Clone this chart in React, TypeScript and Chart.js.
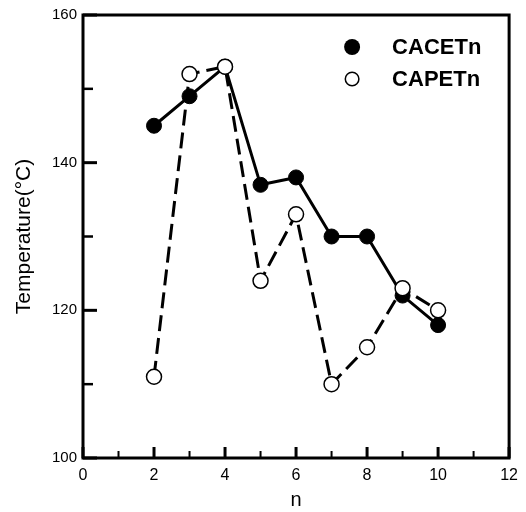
import React, { useEffect, useRef } from "react";
import { Chart, registerables } from "chart.js";

Chart.register(...registerables);

const nValues = [2, 3, 4, 5, 6, 7, 8, 9, 10];
const cacetValues = [145, 149, 153, 137, 138, 130, 130, 122, 118];
const capetValues = [111, 152, 153, 124, 133, 110, 115, 123, 120];
const seriesNames = ["CACETn", "CAPETn"];
const xMajorTicks = [0, 2, 4, 6, 8, 10, 12];
const xMinorTicks = [1, 3, 5, 7, 9, 11];
const yMajorTicks = [100, 120, 140, 160];
const yMinorTicks = [110, 130, 150];
const xTitle = "n";
const yTitle = "Temperature(°C)";

const FONT = "'Liberation Sans', Arial, Helvetica, sans-serif";

const framePlugin = {
  id: "framePlugin",
  afterDatasetsDraw(chart: any) {
    const { ctx, chartArea } = chart;
    const xs = chart.scales.x;
    const ys = chart.scales.y;
    ctx.save();
    ctx.strokeStyle = "#000";
    ctx.lineCap = "butt";
    ctx.lineWidth = 3;
    xMajorTicks.forEach((v) => {
      const px = xs.getPixelForValue(v);
      ctx.beginPath();
      ctx.moveTo(px, chartArea.bottom);
      ctx.lineTo(px, chartArea.bottom - 11);
      ctx.stroke();
    });
    ctx.lineWidth = 2;
    xMinorTicks.forEach((v) => {
      const px = xs.getPixelForValue(v);
      ctx.beginPath();
      ctx.moveTo(px, chartArea.bottom);
      ctx.lineTo(px, chartArea.bottom - 7);
      ctx.stroke();
    });
    ctx.lineWidth = 3;
    yMajorTicks.forEach((v) => {
      const py = ys.getPixelForValue(v);
      ctx.beginPath();
      ctx.moveTo(chartArea.left, py);
      ctx.lineTo(chartArea.left + 14, py);
      ctx.stroke();
    });
    ctx.lineWidth = 2.5;
    yMinorTicks.forEach((v) => {
      const py = ys.getPixelForValue(v);
      ctx.beginPath();
      ctx.moveTo(chartArea.left, py);
      ctx.lineTo(chartArea.left + 10, py);
      ctx.stroke();
    });
    ctx.lineWidth = 3;
    ctx.strokeRect(
      chartArea.left,
      chartArea.top,
      chartArea.right - chartArea.left,
      chartArea.bottom - chartArea.top
    );
    const lx = chartArea.right - 157;
    const ly0 = chartArea.top + 32;
    const gap = 32;
    chart.data.datasets.forEach((ds: any, i: number) => {
      const y = ly0 + i * gap;
      ctx.beginPath();
      if (i === 0) {
        ctx.arc(lx, y, 8, 0, Math.PI * 2);
        ctx.fillStyle = "#000";
        ctx.fill();
      } else {
        ctx.arc(lx, y, 6.8, 0, Math.PI * 2);
        ctx.fillStyle = "#fff";
        ctx.fill();
        ctx.lineWidth = 1.5;
        ctx.strokeStyle = "#000";
        ctx.stroke();
      }
      ctx.fillStyle = "#000";
      ctx.font = `bold 22px ${FONT}`;
      ctx.textAlign = "left";
      ctx.textBaseline = "middle";
      ctx.fillText(ds.label, lx + 40, y + 1);
    });
    ctx.restore();
  },
};

export default function App() {
  const ref = useRef<HTMLCanvasElement | null>(null);
  useEffect(() => {
    document.body.style.margin = "0";
    const canvas = ref.current;
    if (!canvas) return;
    const chart = new Chart(canvas, {
      type: "line",
      data: {
        datasets: [
          {
            label: seriesNames[0],
            data: nValues.map((n, i) => ({ x: n, y: cacetValues[i] })),
            borderColor: "#000",
            borderWidth: 3,
            backgroundColor: "#000",
            pointBackgroundColor: "#000",
            pointBorderColor: "#000",
            pointRadius: 7.5,
            pointBorderWidth: 1,
            tension: 0,
            order: 2,
          },
          {
            label: seriesNames[1],
            data: nValues.map((n, i) => ({ x: n, y: capetValues[i] })),
            borderColor: "#000",
            borderWidth: 3,
            borderDash: [16, 7],
            backgroundColor: "#fff",
            pointBackgroundColor: "#fff",
            pointBorderColor: "#000",
            pointRadius: 7.5,
            pointBorderWidth: 1.5,
            tension: 0,
            order: 1,
          },
        ],
      },
      options: {
        animation: false,
        responsive: false,
        maintainAspectRatio: false,
        layout: { padding: { top: 15, right: 13, left: 0, bottom: 0 } },
        plugins: {
          legend: { display: false },
          tooltip: { enabled: false },
        },
        scales: {
          x: {
            type: "linear",
            min: 0,
            max: 12,
            afterBuildTicks: (s: any) => {
              s.ticks = xMajorTicks.map((v) => ({ value: v }));
            },
            afterFit: (s: any) => {
              s.height = 54;
            },
            grid: { display: false, drawTicks: false },
            border: { display: false },
            ticks: {
              color: "#000",
              padding: 8,
              font: { family: FONT, size: 16 },
            },
            title: {
              display: true,
              text: xTitle,
              color: "#000",
              font: { family: FONT, size: 20 },
              padding: { top: 4, bottom: 0 },
            },
          },
          y: {
            type: "linear",
            min: 100,
            max: 160,
            afterBuildTicks: (s: any) => {
              s.ticks = yMajorTicks.map((v) => ({ value: v }));
            },
            afterFit: (s: any) => {
              s.width = 83;
            },
            grid: { display: false, drawTicks: false },
            border: { display: false },
            ticks: {
              color: "#000",
              padding: 6,
              font: { family: FONT, size: 15 },
            },
            title: {
              display: true,
              text: yTitle,
              color: "#000",
              font: { family: FONT, size: 21 },
              padding: { top: 12, bottom: 0 },
            },
          },
        },
      },
      plugins: [framePlugin],
    });
    return () => chart.destroy();
  }, []);
  return (
    <div style={{ width: 526, height: 512, background: "#fff" }}>
      <canvas ref={ref} width={526} height={512} style={{ display: "block" }} />
    </div>
  );
}
